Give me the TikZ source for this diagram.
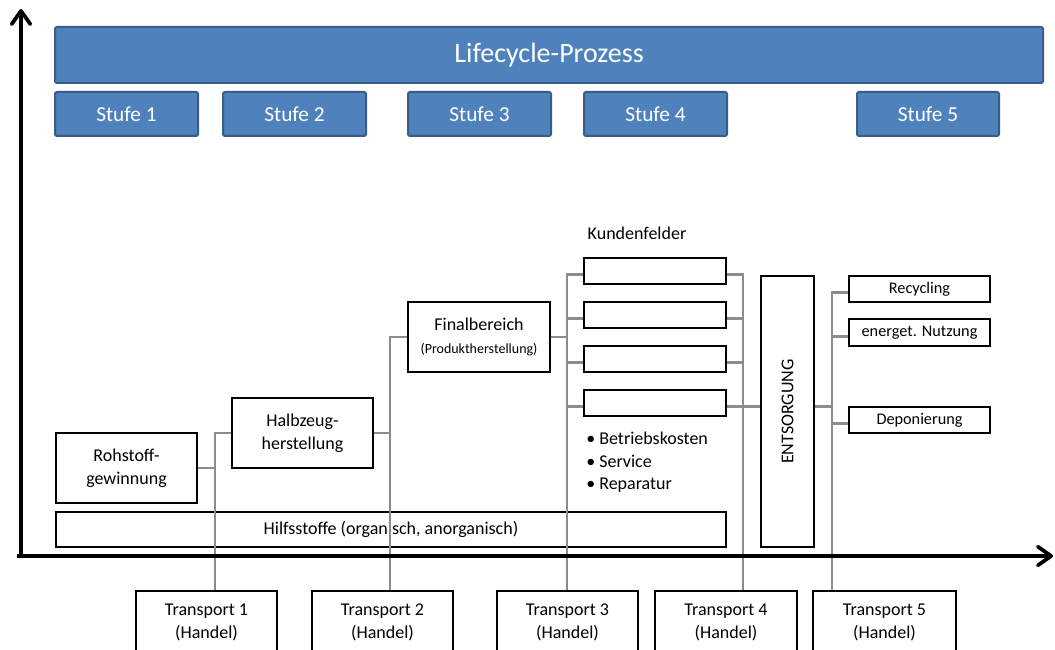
\documentclass[tikz,border=0pt]{standalone}
\usepackage{fontspec}
\setmainfont{Carlito}
\usetikzlibrary{arrows.meta}
\definecolor{bfill}{RGB}{79,129,189}
\definecolor{bdraw}{RGB}{56,93,138}
\definecolor{cgray}{RGB}{140,140,140}
\newcommand\bx[7][]{\node[#1, minimum width={(#4-#2)*0.75pt}, minimum height={(#5-#3)*0.75pt}] (#7) at ({(#2+#4)/2},{(#3+#5)/2}) {#6};}
\tikzset{
  bluebox/.style={draw=bdraw, fill=bfill, line width=1.5pt, rounded corners=1.5pt, text=white, inner sep=0pt, font=\fontsize{16}{19}\selectfont},
  blackbox/.style={draw=black, line width=1.1pt, fill=white, inner sep=0pt, align=center, font=\fontsize{13.5}{17.5}\selectfont},
  openbox/.style={draw=black, line width=1.1pt, inner sep=0pt, align=center, font=\fontsize{13.5}{16.5}\selectfont},
  smallbox/.style={draw=black, line width=1.1pt, fill=white, inner sep=0pt, align=center, font=\fontsize{12.2}{14}\selectfont},
  conn/.style={draw=cgray, line width=2.1pt},
  axis/.style={draw=black, line width=2.8pt, -{Straight Barb[length=10pt, width=14pt, round]}},
  plain/.style={inner sep=0pt, font=\fontsize{13.5}{16.9}\selectfont}
}
\begin{document}
\begin{tikzpicture}[x=0.75pt, y=-0.75pt]
\clip (0,0) rectangle (1055,649);
\fill[white] (0,0) rectangle (1055,649);
% blue header
\bx[bluebox, font=\fontsize{21}{25}\selectfont]{55}{27}{1043}{83}{Lifecycle-Prozess}{lc}
\bx[bluebox]{55}{92}{198}{136}{Stufe 1}{s1}
\bx[bluebox]{223}{92}{366}{136}{Stufe 2}{s2}
\bx[bluebox]{408}{92}{551}{136}{Stufe 3}{s3}
\bx[bluebox]{584}{92}{727}{136}{Stufe 4}{s4}
\bx[bluebox]{857}{92}{999}{136}{Stufe 5}{s5}
% bus coordinates
\coordinate (b1) at (215,0);
\coordinate (b2) at (390,0);
\coordinate (b3) at (567,0);
\coordinate (b4) at (743,0);
\coordinate (b5) at (832,0);
% boxes
\bx[blackbox]{56}{433}{197}{503}{Rohstoff-\\gewinnung}{roh}
\bx[blackbox]{232}{398}{373}{468}{Halbzeug-\\herstellung}{hz}
\bx[blackbox]{408}{302}{550}{372}{Finalbereich\\[-0.5pt]{\fontsize{10.5}{12}\selectfont (Produktherstellung)}}{fb}
\bx[openbox]{56}{512}{726}{547}{Hilfsstoffe (organisch, anorganisch)}{hs}
\bx[blackbox]{584}{258}{726}{284}{}{k1}
\bx[blackbox]{584}{302}{726}{328}{}{k2}
\bx[blackbox]{584}{346}{726}{372}{}{k3}
\bx[blackbox]{584}{390}{726}{416}{}{k4}
\bx[blackbox]{761}{276}{814}{547}{}{ent}
\node[plain, rotate=90] (entt) at (ent.center) {ENTSORGUNG};
\bx[smallbox]{849}{276}{990}{302}{Recycling}{r1}
\bx[smallbox]{849}{319}{990}{346}{energet. Nutzung}{r2}
\bx[smallbox]{849}{407}{990}{433}{Deponierung}{r3}
\bx[blackbox]{136}{591}{277}{654}{Transport 1\\(Handel)}{t1}
\bx[blackbox]{312}{591}{453}{654}{Transport 2\\(Handel)}{t2}
\bx[blackbox]{497}{591}{638}{654}{Transport 3\\(Handel)}{t3}
\bx[blackbox]{655}{591}{797}{654}{Transport 4\\(Handel)}{t4}
\bx[blackbox]{813}{591}{956}{654}{Transport 5\\(Handel)}{t5}
\node[plain] (kf) at (637,233) {Kundenfelder};
\node[plain, anchor=north west, align=left] (bl) at (586,432) {• Betriebskosten\\• Service\\• Reparatur};
% connectors
\draw[conn] (roh.east) -- (roh.east -| b1);
\draw[conn] (hz.west) -- (hz.west -| b1) -- (b1 |- t1.north);
\draw[conn] (hz.east) -- (hz.east -| b2);
\draw[conn] (fb.west) -- (fb.west -| b2) -- (b2 |- t2.north);
\draw[conn] (fb.east) -- (fb.east -| b3);
\draw[conn] ([yshift=-2.5pt]k1.west) -- ([yshift=-2.5pt]k1.west -| b3) -- (b3 |- t3.north);
\draw[conn] ([yshift=-2.5pt]k2.west) -- ([yshift=-2.5pt]k2.west -| b3);
\draw[conn] ([yshift=-2.5pt]k3.west) -- ([yshift=-2.5pt]k3.west -| b3);
\draw[conn] ([yshift=-2.5pt]k4.west) -- ([yshift=-2.5pt]k4.west -| b3);
\draw[conn] ([yshift=-2.5pt]k1.east) -- ([yshift=-2.5pt]k1.east -| b4) -- (b4 |- t4.north);
\draw[conn] ([yshift=-2.5pt]k2.east) -- ([yshift=-2.5pt]k2.east -| b4);
\draw[conn] ([yshift=-2.5pt]k3.east) -- ([yshift=-2.5pt]k3.east -| b4);
\draw[conn] ([yshift=-2.5pt]k4.east) -- ([yshift=-2.5pt]k4.east -| ent.west);
\draw[conn] ([yshift=-2.5pt]k4.east -| ent.east) -- ([yshift=-2.5pt]k4.east -| b5);
\draw[conn] ([yshift=-2.8pt]r1.west) -- ([yshift=-2.8pt]r1.west -| b5) -- (b5 |- t5.north);
\draw[conn] ([yshift=-2.8pt]r2.west) -- ([yshift=-2.8pt]r2.west -| b5);
\draw[conn] ([yshift=-2.8pt]r3.west) -- ([yshift=-2.8pt]r3.west -| b5);
% axes
\coordinate (o1) at (21,558);
\coordinate (yt) at (21,9);
\coordinate (o2) at (17,556);
\coordinate (xt) at (1053,556);
\draw[axis] (o1) -- (yt);
\draw[axis] (o2) -- (xt);
\end{tikzpicture}
\end{document}
